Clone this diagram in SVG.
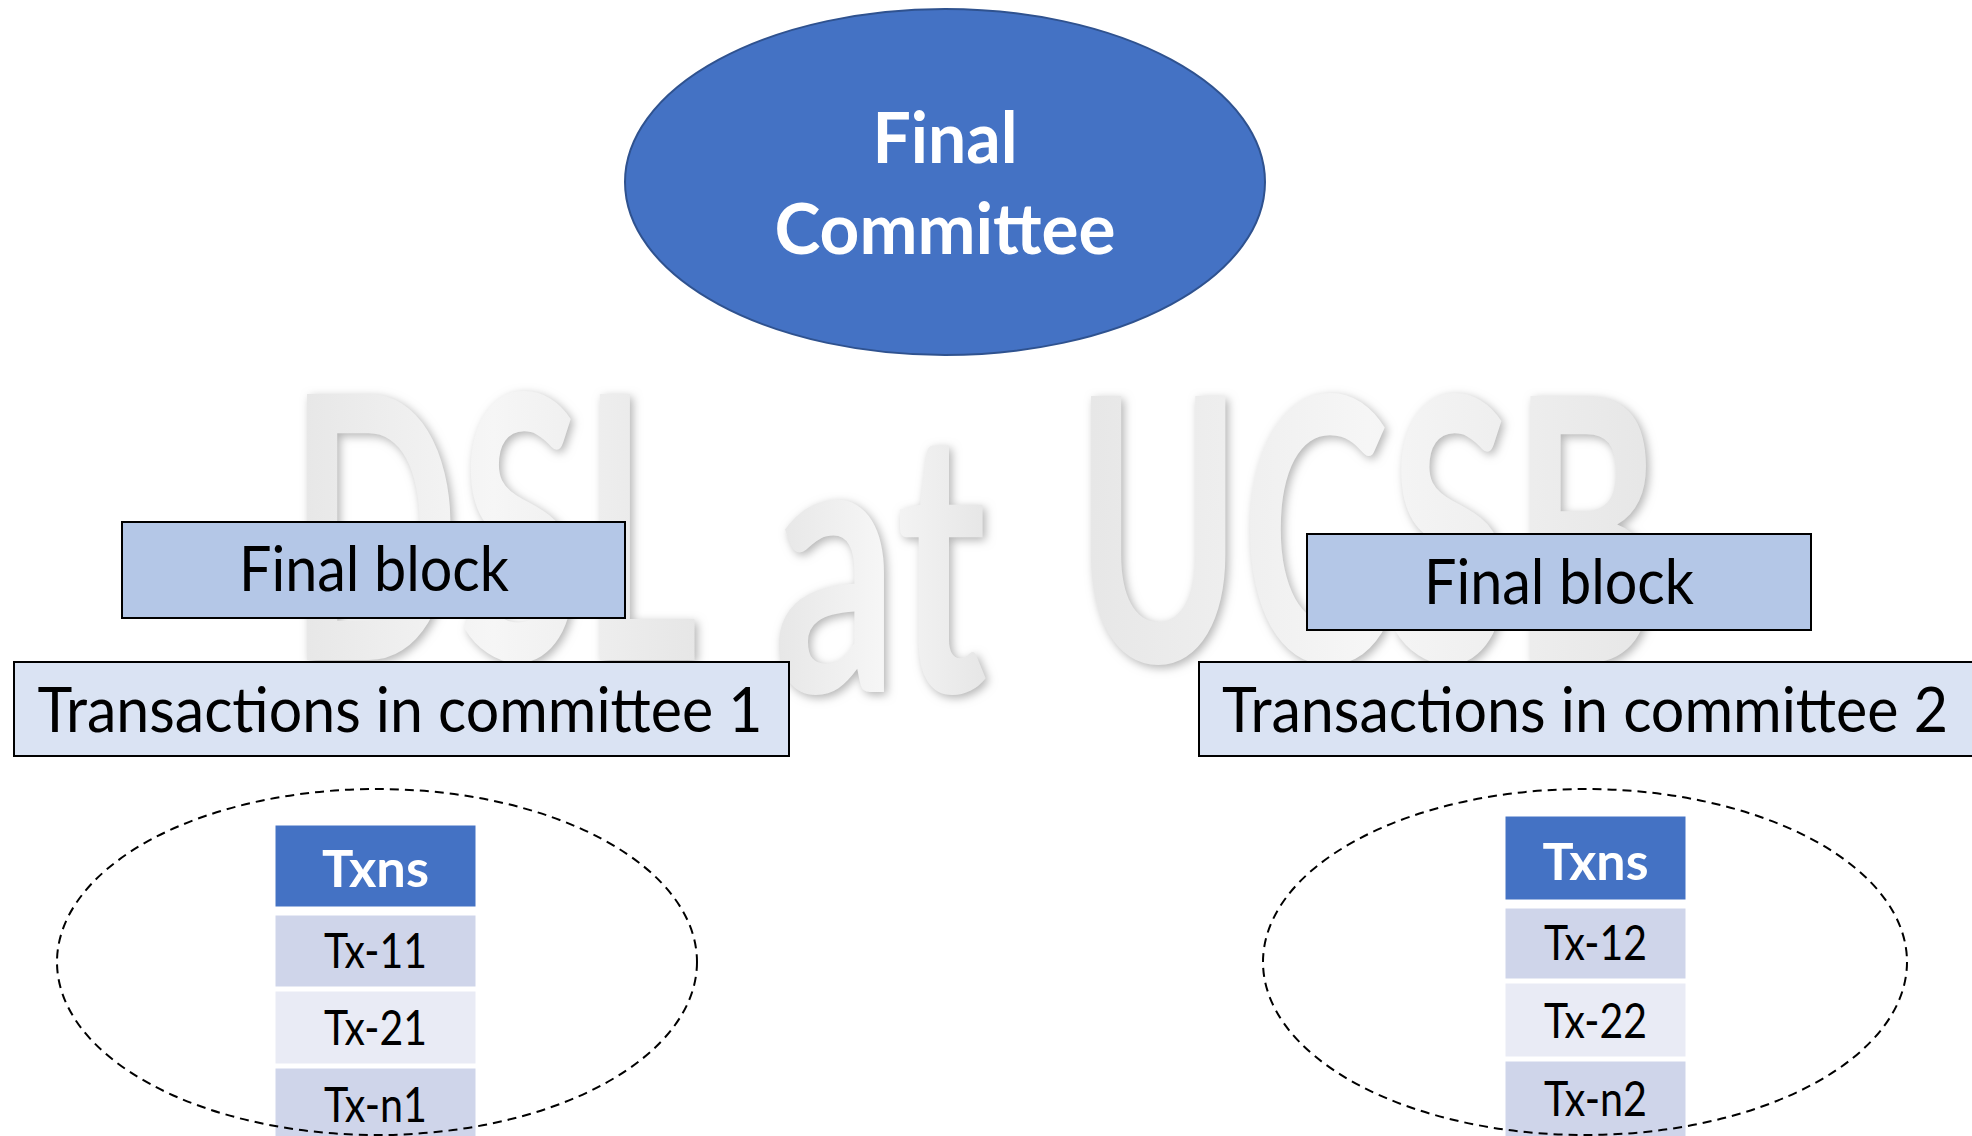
<svg xmlns="http://www.w3.org/2000/svg" width="1972" height="1136" viewBox="0 0 1972 1136">
<defs>
<style>
.wm{font-family:Lato,"Open Sans",sans-serif;font-weight:700;font-size:368px;fill:url(#wmg);filter:url(#emb)}
.blk{fill:#B4C7E7;stroke:#000;stroke-width:2}
.txr{fill:#DAE3F3;stroke:#000;stroke-width:2}
.lbl{font-family:Lato,"Open Sans",sans-serif;font-size:61px;fill:#000;text-anchor:middle}
.hd{fill:#4472C4;stroke:#fff;stroke-width:3}
.r1{fill:#CFD5EA;stroke:#fff;stroke-width:3}
.r2{fill:#E9EBF5;stroke:#fff;stroke-width:3}
.hdt{font-family:Lato,"Open Sans",sans-serif;font-weight:700;font-size:51px;fill:#fff;text-anchor:middle}
.cell{font-family:Lato,"Open Sans",sans-serif;font-size:49px;fill:#000;text-anchor:middle}
.dash{fill:none;stroke:#000;stroke-width:2;stroke-dasharray:9 6}
.fc{font-family:Lato,"Open Sans",sans-serif;font-weight:700;font-size:70px;fill:#fff;text-anchor:middle}
</style>
<linearGradient id="wmg" x1="0" y1="0" x2="1" y2="0">
<stop offset="0" stop-color="#e6e6e6"/>
<stop offset="0.5" stop-color="#f6f6f6"/>
<stop offset="1" stop-color="#e6e6e6"/>
</linearGradient>
<filter id="emb" x="-5%" y="-10%" width="110%" height="120%">
<feGaussianBlur in="SourceAlpha" stdDeviation="5" result="b"/>
<feFlood flood-color="#b4b4b4"/>
<feComposite in2="b" operator="in" result="sh"/>
<feOffset in="sh" dx="3" dy="3" result="sho"/>
<feMerge><feMergeNode in="sho"/><feMergeNode in="SourceGraphic"/></feMerge>
</filter>
</defs>
<rect width="1972" height="1136" fill="#fff"/>
<g id="watermark">
<text class="wm" x="289" y="660" textLength="409" lengthAdjust="spacingAndGlyphs">DSL</text>
<text class="wm" x="773" y="692" textLength="214" lengthAdjust="spacingAndGlyphs">at</text>
<text class="wm" x="1075" y="662" textLength="585" lengthAdjust="spacingAndGlyphs">UCSB</text>
</g>
<g id="connectors"></g>
<g id="final-committee">
<ellipse cx="945" cy="182" rx="320" ry="173" fill="#4472C4" stroke="#2F528F" stroke-width="2"/>
<text class="fc" x="945" y="163" textLength="145" lengthAdjust="spacingAndGlyphs">Final</text>
<text class="fc" x="945" y="254" textLength="341" lengthAdjust="spacingAndGlyphs">Committee</text>
</g>
<g id="final-block-1">
<rect class="blk" x="122" y="522" width="503" height="96"/>
<text class="lbl" x="374" y="591" textLength="270" lengthAdjust="spacingAndGlyphs">Final block</text>
</g>
<g id="transactions-1">
<rect class="txr" x="14" y="662" width="775" height="94"/>
<text class="lbl" x="400" y="732" textLength="725" lengthAdjust="spacingAndGlyphs">Transactions in committee 1</text>
</g>
<g id="final-block-2">
<rect class="blk" x="1307" y="534" width="504" height="96"/>
<text class="lbl" x="1559" y="604" textLength="270" lengthAdjust="spacingAndGlyphs">Final block</text>
</g>
<g id="transactions-2">
<rect class="txr" x="1199" y="662" width="790" height="94"/>
<text class="lbl" x="1585" y="732" textLength="726" lengthAdjust="spacingAndGlyphs">Transactions in committee 2</text>
</g>
<g id="txns-table-1">
<rect class="hd" x="274" y="824" width="203" height="84"/>
<text class="hdt" x="375.5" y="887" textLength="107" lengthAdjust="spacingAndGlyphs">Txns</text>
<rect class="r1" x="274" y="914" width="203" height="74"/>
<text class="cell" x="375.5" y="968" textLength="103" lengthAdjust="spacingAndGlyphs">Tx-11</text>
<rect class="r2" x="274" y="990" width="203" height="75"/>
<text class="cell" x="375.5" y="1045" textLength="103" lengthAdjust="spacingAndGlyphs">Tx-21</text>
<rect class="r1" x="274" y="1067" width="203" height="75"/>
<text class="cell" x="375.5" y="1122" textLength="103" lengthAdjust="spacingAndGlyphs">Tx-n1</text>
</g>
<g id="txns-table-2">
<rect class="hd" x="1504" y="815" width="183" height="86"/>
<text class="hdt" x="1595.5" y="880" textLength="106" lengthAdjust="spacingAndGlyphs">Txns</text>
<rect class="r1" x="1504" y="907" width="183" height="73"/>
<text class="cell" x="1595.5" y="960" textLength="103" lengthAdjust="spacingAndGlyphs">Tx-12</text>
<rect class="r2" x="1504" y="982" width="183" height="76"/>
<text class="cell" x="1595.5" y="1038" textLength="103" lengthAdjust="spacingAndGlyphs">Tx-22</text>
<rect class="r1" x="1504" y="1060" width="183" height="82"/>
<text class="cell" x="1595.5" y="1116" textLength="103" lengthAdjust="spacingAndGlyphs">Tx-n2</text>
</g>
<g id="committee-1-group">
<ellipse class="dash" cx="377" cy="962" rx="320" ry="173"/>
</g>
<g id="committee-2-group">
<ellipse class="dash" cx="1585" cy="962" rx="322" ry="173"/>
</g>
</svg>
